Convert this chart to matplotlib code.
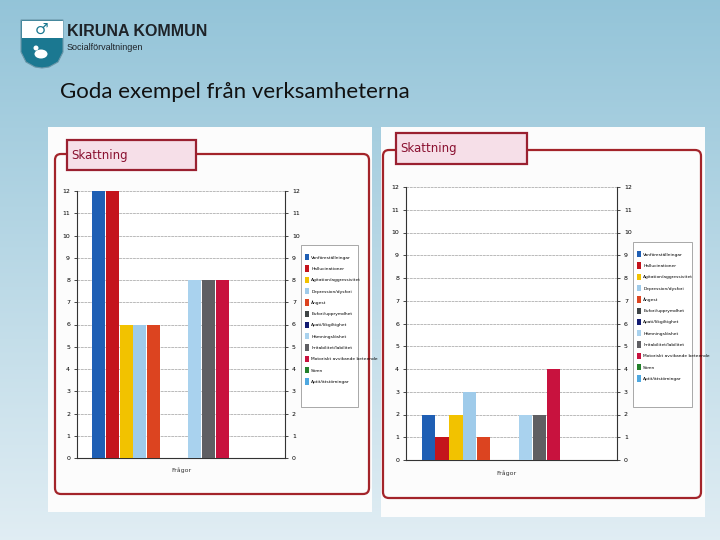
import numpy as np
import matplotlib
matplotlib.use("Agg")
import matplotlib.pyplot as plt
from matplotlib.patches import Rectangle, FancyBboxPatch, Polygon, Ellipse

# data
symptoms = ["Vanföreställningar", "Hallucinationer", "Agitation/aggressivitet",
            "Depression/dysfori", "Ångest", "Eufori/upprymdhet", "Apati/likgiltighet",
            "Hämningslöshet", "Irritabilitet/labilitet", "Motoriskt avvikande beteende",
            "Sömn", "Aptit/ätstörningar"]
colors = ["#1f5fb4", "#c4141c", "#f2c200", "#9fcbea", "#dc4420", "#3f4546",
          "#121a70", "#a9d2ee", "#5f5f63", "#c8123e", "#22802a", "#4fa8e0"]
values_left = [12, 12, 6, 6, 6, 0, 0, 8, 8, 8, 0, 0]
values_right = [2, 1, 2, 3, 1, 0, 0, 2, 2, 4, 0, 0]
yticks = list(range(0, 13))

W, H = 720, 540
fig = plt.figure(figsize=(7.2, 5.4), dpi=100)


def box(x0, y0, x1, y1):
    # pixel box (top-left origin) -> figure fraction rect
    return [x0 / W, 1 - y1 / H, (x1 - x0) / W, (y1 - y0) / H]


# background gradient
bg = fig.add_axes([0, 0, 1, 1], zorder=-10)
top = np.array([0.58, 0.77, 0.85])
bot = np.array([0.88, 0.93, 0.955])
t = np.linspace(0, 1, 256)[:, None]
grad = top + (bot - top) * t
bg.imshow(grad[:, None, :].repeat(2, axis=1), aspect="auto", extent=[0, W, H, 0])
bg.set_xlim(0, W)
bg.set_ylim(H, 0)
bg.axis("off")

# overlay in pixel coords
ov = fig.add_axes([0, 0, 1, 1], zorder=0)
ov.set_xlim(0, W)
ov.set_ylim(H, 0)
ov.axis("off")
ov.patch.set_alpha(0)

# logo
shield = Polygon([[21, 20], [63, 20], [63, 52], [58, 62], [49, 67], [42, 68],
                  [35, 67], [26, 62], [21, 52]], closed=True,
                 facecolor="#1b7891", edgecolor="#6a96a8", lw=0.8)
ov.add_patch(shield)
ov.add_patch(Rectangle((21.5, 20.5), 41, 17, facecolor="white", edgecolor="none"))
ov.text(42, 29, "♂", ha="center", va="center", fontsize=11, color="#1b7891",
        fontweight="bold", family="DejaVu Sans")
ov.add_patch(Ellipse((41, 54), 13, 9, facecolor="white", edgecolor="none"))
ov.add_patch(Ellipse((36, 48), 5, 5, facecolor="white", edgecolor="none"))
ov.text(67, 32, "KIRUNA KOMMUN", ha="left", va="center", fontsize=11.5,
        fontweight="bold", color="#1e2328", family="Liberation Sans")
ov.text(67, 47, "Socialförvaltningen", ha="left", va="center", fontsize=6.5,
        color="#1e2328", family="Liberation Sans")

ov.text(60, 92, "Goda exempel från verksamheterna", ha="left", va="center",
        fontsize=16, color="#111111", family="Lato")

narrow = ["Liberation Sans Narrow", "DejaVu Sans"]


def panel(img, frame, tab, plot, legbox, xlab, values):
    ov.add_patch(Rectangle((img[0], img[1]), img[2] - img[0], img[3] - img[1],
                           facecolor="#fcfcfc", edgecolor="none"))
    ov.add_patch(FancyBboxPatch((frame[0], frame[1]), frame[2] - frame[0],
                                frame[3] - frame[1], boxstyle="round,pad=0,rounding_size=6",
                                facecolor="none", edgecolor="#a3242a", lw=1.6))
    ov.add_patch(Rectangle((tab[0], tab[1]), tab[2] - tab[0], tab[3] - tab[1],
                           facecolor="#f6dfe8", edgecolor="#9a2030", lw=1.6, zorder=3))
    ov.text(tab[0] + 4, (tab[1] + tab[3]) / 2, "Skattning", ha="left", va="center",
            fontsize=8.5, color="#8a1030", family=narrow, zorder=4)
    # legend frame
    ov.add_patch(Rectangle((legbox[0], legbox[1]), legbox[2] - legbox[0],
                           legbox[3] - legbox[1], facecolor="white",
                           edgecolor="#9a9a9a", lw=0.6))

    ax = fig.add_axes(box(*plot))
    x = np.arange(len(values))
    ax.bar(x, values, width=0.95, color=colors, zorder=3)
    ax.set_xlim(-1.6, 13.6)
    ax.set_ylim(0, 12)
    ax.set_yticks(yticks)
    ax.set_xticks([])
    ax.grid(axis="y", color="#a0a0a0", lw=0.5, ls=(0, (4, 1)), zorder=0)
    ax.tick_params(axis="y", labelsize=4.5, length=2, width=0.5, pad=3,
                   labelright=True, right=True)
    for lab in ax.get_yticklabels():
        lab.set_family(narrow)
    ax.spines["top"].set_visible(False)
    for s in ["left", "right", "bottom"]:
        ax.spines[s].set_linewidth(0.8)
        ax.spines[s].set_color("#333333")
    ax.set_facecolor("white")
    ov.text(xlab[0], xlab[1], "Frågor", ha="center", va="center", fontsize=4.5,
            color="#333333", family=narrow)

    handles = [Rectangle((0, 0), 1, 1, facecolor=c) for c in colors]
    fig.legend(handles, symptoms, loc="upper left", frameon=False,
               bbox_to_anchor=((legbox[0] + 4) / W, 1 - (legbox[1] + 9) / H),
               handlelength=0.9, handleheight=1.8, handletextpad=0.5,
               labelspacing=1.13, borderaxespad=0, borderpad=0,
               prop={"family": narrow, "size": 3.2})


panel((48, 127, 372, 512), (55, 154, 369, 494), (67, 140, 196, 170),
      (77, 191, 285, 458), (301, 245, 358, 407), (181, 470), values_left)
panel((381, 127, 705, 517), (383, 150, 701, 498), (396, 133, 527, 164),
      (406, 187, 617, 460), (633, 242, 692, 407), (506, 473), values_right)

fig.savefig("out.png", dpi=100)
